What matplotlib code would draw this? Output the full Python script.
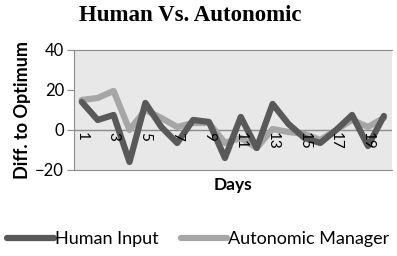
import matplotlib
matplotlib.use('Agg')
import matplotlib.pyplot as plt

# data
days = list(range(1, 21))
human_input = [14, 5, 7.5, -16, 13.5, 1.5, -6.5, 5, 4, -14, 6.5, -9, 13, 3, -4, -6.5, 0, 7.5, -8, 7]
autonomic = [15, 16, 19.5, 0, 10, 6, 1.5, 3.5, 3.5, -6.5, -4, -9, 0.5, -1, -2, -5, 0, 5, 1.5, 6]
tick_days = [1, 3, 5, 7, 9, 11, 13, 15, 17, 19]

plt.rcParams['font.family'] = ['Lato', 'DejaVu Sans']

fig = plt.figure(figsize=(3.97, 2.56), dpi=100)
ax = fig.add_axes([0.186, 0.336, 0.801, 0.469])
ax.set_facecolor('#e8e8e8')

ax.axhline(0, color='#8c8c8c', lw=1, zorder=1)
ax.plot(days, human_input, color='#595959', lw=4.5, label='Human Input', zorder=3,
        solid_capstyle='round', solid_joinstyle='round')
ax.plot(days, autonomic, color='#a6a6a6', lw=4.5, label='Autonomic Manager', zorder=2,
        solid_capstyle='round', solid_joinstyle='round')

ax.set_xlim(0.5, 20.5)
ax.set_ylim(-20, 40)
ax.set_yticks([-20, 0, 20, 40])
ax.tick_params(axis='y', labelsize=12, length=5, color='#8c8c8c', pad=2)
ax.set_xticks([])

# category labels sit just under the zero line
for d in tick_days:
    ax.text(d, -1, str(d), rotation=270, ha='center', va='top', fontsize=11,
            color='black', zorder=5)

for side in ['left', 'right', 'top', 'bottom']:
    ax.spines[side].set_color('#8c8c8c')
ax.spines['right'].set_visible(False)

ax.set_xlabel('Days', fontsize=12.5, fontweight='bold', labelpad=5)
ax.set_ylabel('Diff. to Optimum', fontsize=13, fontweight='bold', labelpad=3)

fig.text(0.48, 0.94, 'Human Vs. Autonomic', family='Liberation Serif', fontsize=16.5,
         fontweight='bold', ha='center', va='center')

fig.legend(loc='center', bbox_to_anchor=(0.5, 0.065), ncol=2, frameon=False, fontsize=13,
           handlelength=2.6, handletextpad=0.05, columnspacing=1.2)

plt.savefig('out.png', dpi=100)
